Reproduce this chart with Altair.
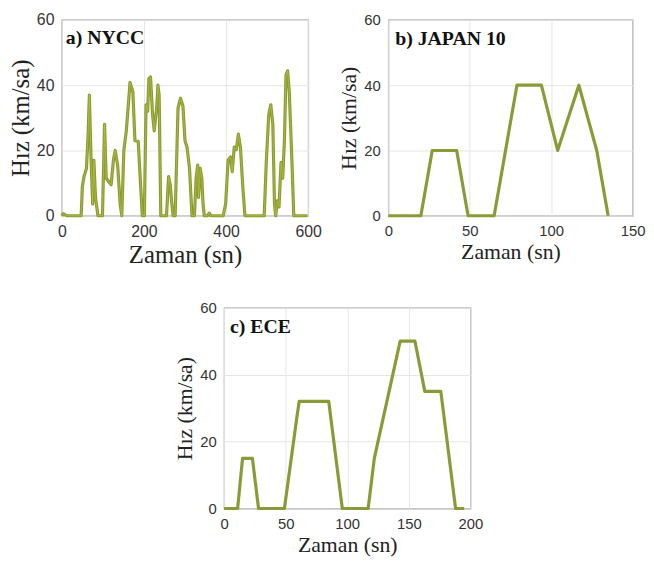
import altair as alt
import pandas as pd

# ---- data ----
nycc_t = [0, 3, 8, 12, 30, 47, 50, 54, 60, 64, 67, 71, 75, 78, 82, 88, 99, 104, 108, 114,
          120, 126, 130, 136, 142, 146, 151, 157, 162, 166, 173, 178, 186, 190, 196, 201,
          205, 209, 212, 216, 221, 225, 231, 234, 237, 241, 255, 260, 264, 268, 271, 276,
          283, 289, 295, 300, 305, 311, 317, 323, 327, 331, 333, 337, 341, 344, 347, 355,
          359, 363, 393, 399, 405, 411, 415, 420, 425, 430, 435, 441, 446, 493, 498, 504,
          509, 514, 518, 521, 525, 529, 534, 538, 542, 546, 550, 554, 560, 565, 598]
nycc_v = [0, 0.6, 0.3, 0, 0, 0, 9, 12, 14.5, 25, 37, 18, 3.6, 17, 5.5, 0, 0, 28, 11.5, 10.5,
          9.5, 17.4, 20, 15.4, 3.6, 0, 20, 26, 34, 40.8, 38, 23, 22.8, 13.5, 0, 0,
          34, 32, 42, 42.5, 31, 26, 33, 40, 37, 0, 0, 12, 9.5, 3.6, 0, 0,
          33, 36, 33.6, 23, 21, 14.5, 0, 0, 11.5, 15.5, 5.6, 14.5, 11.5, 3.6, 0, 0,
          0.8, 0, 0, 3.6, 17, 18, 13.5, 21, 20.3, 25, 21, 8.5, 0, 0, 16.4, 31,
          34, 28, 3.6, 0, 4.6, 2.7, 16.4, 11.5, 22.3, 43, 44.4, 38, 18.4, 0, 0]

japan_t = [0, 20, 27, 42, 49, 65, 79, 94, 104, 117, 128, 135]
japan_v = [0, 0, 20, 20, 0, 0, 40, 40, 20, 40, 20, 0]

ece_t = [0, 11, 15, 23, 28, 49, 59, 61, 85, 96, 117, 122, 143, 155, 163, 176, 188, 195]
ece_v = [0, 0, 15, 15, 0, 0, 27, 32, 32, 0, 0, 15, 50, 50, 35, 35, 0, 0]

panel_labels = ["a) NYCC", "b) JAPAN 10", "c) ECE"]
x_title = "Zaman (sn)"
y_title = "Hız (km/sa)"
y_ticks = [0, 20, 40, 60]

OUTER = "#8a9a36"
INNER = "#b9c53a"


def panel(t, v, xmax, xticks, label, w, h, tsize, lsize, lab_x, lab_y, highlight=False):
    df = pd.DataFrame({"t": t, "v": v})
    x = alt.X("t:Q", scale=alt.Scale(domain=[0, xmax], nice=False),
              axis=alt.Axis(values=xticks, title=x_title, titleFontSize=tsize,
                            labelFontSize=lsize, labelPadding=8, titlePadding=3,
                            labelFlush=False))
    y = alt.Y("v:Q", scale=alt.Scale(domain=[0, 60], nice=False),
              axis=alt.Axis(values=y_ticks, title=y_title, titleFontSize=tsize,
                            labelFontSize=lsize, labelPadding=8, titlePadding=3))
    layers = [alt.Chart(df).mark_line(color=OUTER, strokeWidth=3.2, strokeJoin="round").encode(x=x, y=y)]
    if highlight:
        layers.append(alt.Chart(df).mark_line(color=INNER, strokeWidth=1, opacity=0.7,
                                              strokeJoin="round").encode(x=x, y=y))
    lab = alt.Chart(pd.DataFrame({"l": [label]})).mark_text(
        align="left", baseline="alphabetic", font="Liberation Serif", fontWeight="bold",
        fontSize=20, color="#111"
    ).encode(text="l:N", x=alt.value(lab_x), y=alt.value(lab_y))
    layers.append(lab)
    return alt.layer(*layers).properties(width=w, height=h)


a = panel(nycc_t, nycc_v, 600, [0, 200, 400, 600], panel_labels[0], 249, 198, 25, 16, 4, 24, True)
b = panel(japan_t, japan_v, 150, [0, 50, 100, 150], panel_labels[1], 247, 198, 22, 15, 7, 25)
c = panel(ece_t, ece_v, 200, [0, 50, 100, 150, 200], panel_labels[2], 249, 203, 22, 15, 6, 26)

top = alt.hconcat(a, b, spacing=15)
chart = alt.vconcat(top, c, spacing=32, center=True).properties(
    padding={"left": 0, "top": 0, "right": 0, "bottom": 0}
).configure_view(
    stroke="#8c8c8c", strokeWidth=1.2
).configure_axis(
    grid=True, gridColor="#e6e6e6", gridWidth=1, domain=False, ticks=False,
    labelFont="Liberation Sans", labelColor="#333333",
    titleFont="Liberation Serif", titleFontWeight="normal", titleColor="#222222"
)

chart.save("out.html", embed_options={"renderer": "svg", "actions": False})
